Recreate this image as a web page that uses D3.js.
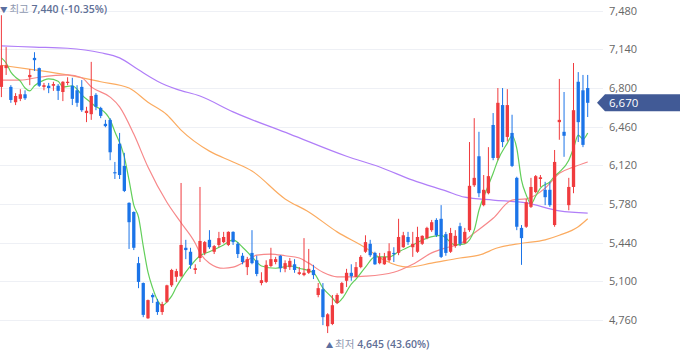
<!DOCTYPE html>
<html><head><meta charset="utf-8">
<script src="https://cdn.jsdelivr.net/npm/d3@7"></script>
<style>
html,body{margin:0;padding:0;background:#fff;}
svg{display:block;font-family:"Open Sans","Noto Sans CJK KR",sans-serif;}
</style></head><body>
<svg id="chart" width="680" height="358"></svg>
<script>
// ---- data ----
const openP  = [6810,6975,6810,6675,6705,6745,6895,7065,6975,6810,6820,6820,6820,6765,6845,6820,6780,6810,6580,6570,6740,6625,6485,6520,6060,6310,6115,5790,5710,5260,5085,4775,4980,4920,4830,4920,5065,5140,5145,5395,5360,5200,5305,5350,5465,5360,5420,5445,5420,5535,5430,5325,5225,5350,5285,5085,5095,5235,5270,5325,5210,5225,5250,5165,5155,5175,5200,4980,5030,4705,4725,4910,4995,5105,5175,5140,5225,5360,5430,5350,5260,5250,5285,5350,5350,5400,5490,5400,5360,5430,5480,5550,5640,5650,5515,5360,5410,5585,5435,5550,5945,6200,5770,5875,6475,6185,6650,6370,6405,6010,5570,5580,5755,5885,6000,5905,5905,5595,6500,6415,5770,5930,6855,6780,6800];
const highP  = [7440,7160,6825,6755,6790,6780,6965,7115,6980,6845,6845,6855,6835,6860,6895,6890,6825,6870,6635,7030,6755,6635,6520,6535,6150,6405,6230,5795,5715,5315,5090,4940,4995,4945,4920,5070,5210,5210,5965,5465,5395,5250,5930,5455,5550,5420,5535,5535,5540,5540,5445,5350,5315,5550,5325,5180,5285,5395,5315,5330,5285,5305,5295,5225,5480,5385,5245,5085,5085,4820,4980,4995,5095,5210,5250,5270,5330,5505,5465,5360,5350,5350,5435,5400,5650,5535,5535,5535,5580,5505,5580,5640,5655,5770,5535,5570,5550,5615,5570,6325,6535,6415,6035,6280,6580,6800,6800,6790,6565,6020,5595,5825,6010,6035,6035,5975,5975,6255,6880,6765,6010,7020,6940,6915,6915];
const lowP   = [6720,6915,6670,6650,6685,6695,6825,6950,6810,6780,6755,6775,6695,6685,6825,6650,6635,6590,6500,6520,6605,6535,6455,6165,6000,6000,5885,5385,5375,5040,4785,4770,4910,4805,4805,4910,5050,5095,5135,5295,5210,5165,5270,5330,5385,5340,5400,5435,5410,5420,5305,5250,5155,5250,5145,5065,5085,5225,5250,5180,5180,5200,5175,5155,5145,5165,5120,4960,4715,4645,4715,4900,4990,5050,5105,5135,5215,5350,5315,5245,5250,5245,5270,5270,5330,5395,5420,5315,5350,5420,5470,5535,5490,5305,5325,5350,5395,5410,5430,5535,5930,5840,5760,5865,6165,6165,6280,6330,6105,5550,5245,5570,5745,5875,5930,5770,5755,5580,6345,6195,5725,5875,6325,6280,6545];
const closeP = [7000,7000,6695,6730,6745,6710,6915,7045,6820,6825,6800,6835,6775,6855,6855,6705,6670,6605,6600,6730,6635,6555,6465,6235,6050,6035,5895,5620,5395,5095,4805,4935,4960,4830,4900,5065,5200,5190,5420,5375,5245,5215,5455,5445,5400,5410,5480,5490,5535,5445,5340,5270,5295,5260,5165,5110,5245,5295,5295,5215,5260,5280,5200,5180,5175,5210,5155,5040,4785,4810,4890,4980,5085,5175,5145,5225,5315,5445,5330,5250,5315,5315,5365,5340,5490,5505,5445,5430,5490,5500,5570,5620,5505,5315,5350,5525,5500,5430,5535,5940,6010,5875,5905,6025,6185,6670,6325,6650,6115,5580,5480,5795,5930,6025,6015,5840,5770,6150,6520,6380,5930,6605,6500,6300,6670];

const yTicks = [4760,5100,5440,5780,6120,6460,6800,7140,7480];

// moving-average lines, [candle index, value]
const ma5   = [[0,7065],[1,7020],[2,6940],[3,6895],[4,6860],[5,6800],[6,6775],[7,6820],[9,6870],[10,6880],[12,6860],[13,6810],[15,6820],[16,6790],[17,6740],[19,6670],[20,6635],[21,6615],[23,6520],[24,6415],[26,6195],[27,5990],[28,5770],[29,5665],[30,5410],[31,5180],[32,5040],[33,4935],[34,4885],[35,4920],[36,4970],[37,5050],[38,5120],[40,5235],[42,5325],[44,5360],[47,5420],[49,5465],[51,5400],[53,5315],[55,5235],[58,5215],[61,5235],[63,5215],[66,5175],[68,5040],[70,4955],[71,4910],[72,4945],[74,5075],[75,5120],[77,5225],[79,5315],[82,5315],[84,5360],[87,5420],[90,5480],[93,5505],[96,5420],[98,5430],[100,5550],[101,5725],[103,5945],[104,6050],[105,6165],[107,6315],[108,6380],[109,6270],[110,5990],[111,5860],[112,5780],[113,5850],[114,5920],[116,5975],[117,6025],[118,6060],[120,6165],[121,6270],[122,6385],[123,6350],[124,6405]];
const ma20  = [[0,6870],[4,6870],[8,6895],[14,6915],[17,6890],[19,6810],[23,6720],[25,6635],[28,6395],[31,6105],[35,5795],[38,5615],[41,5435],[42,5350],[44,5260],[47,5215],[49,5225],[52,5285],[54,5330],[57,5340],[60,5325],[63,5305],[65,5260],[68,5180],[71,5140],[74,5140],[77,5145],[83,5180],[87,5250],[91,5350],[94,5395],[97,5430],[100,5525],[104,5655],[108,5815],[111,5825],[115,5920],[118,6050],[121,6105],[124,6150]];
const ma60  = [[0,7000],[7,6960],[14,6915],[21,6855],[27,6800],[31,6675],[35,6565],[38,6430],[44,6245],[49,6150],[53,6070],[60,5825],[65,5710],[71,5535],[77,5395],[81,5285],[86,5225],[91,5260],[97,5305],[101,5330],[105,5395],[110,5435],[115,5465],[118,5505],[122,5580],[124,5650]];
const ma120 = [[0,7170],[7,7160],[14,7150],[21,7110],[25,7065],[29,6960],[33,6860],[37,6790],[42,6730],[49,6590],[61,6395],[73,6200],[80,6105],[87,5990],[94,5895],[98,5840],[104,5815],[111,5790],[118,5720],[124,5700]];

const upColor = "#f03b3e", downColor = "#1b74e8";
const FONT = '"Open Sans","Noto Sans CJK KR",sans-serif';

// ---- build ----
const svg = d3.select("#chart");
const idx = d3.range(openP.length);
const x = d3.scalePoint().domain(idx).range([1.4, 587.7]);
const y = d3.scaleLinear().domain([4760, 7480]).range([320, 10.7]);
const bodyW = x.step() * 0.7;

// grid
svg.append("g").selectAll("line").data(yTicks).join("line")
  .attr("x1", 0).attr("x2", 603)
  .attr("y1", d => Math.round(y(d)) + 0.5).attr("y2", d => Math.round(y(d)) + 0.5)
  .attr("stroke", "#eef0f5").attr("stroke-width", 1);

// y axis labels
const axis = d3.axisRight(y).tickValues(yTicks).tickFormat(d3.format(",")).tickSize(0).tickPadding(0);
const ag = svg.append("g").attr("transform", "translate(609,0)").call(axis);
ag.select(".domain").remove();
ag.selectAll("text").attr("fill", "#666").attr("font-size", "11px").attr("font-family", FONT);

// MA lines
const line = d3.line().x(d => x(d[0])).y(d => y(d[1])).curve(d3.curveMonotoneX);
[[ma120, "#b07ef8"], [ma60, "#fbab60"], [ma20, "#f7888a"], [ma5, "#62cf5a"]].forEach(([data, c]) => {
  svg.append("path").attr("d", line(data)).attr("fill", "none")
    .attr("stroke", c).attr("stroke-width", 1.2);
});

// candles
const candles = svg.append("g").selectAll("g").data(idx).join("g");
candles.append("line")
  .attr("x1", i => x(i)).attr("x2", i => x(i))
  .attr("y1", i => y(highP[i])).attr("y2", i => y(lowP[i]))
  .attr("stroke", i => closeP[i] >= openP[i] ? upColor : downColor)
  .attr("stroke-width", 1);
candles.append("rect")
  .attr("x", i => x(i) - bodyW / 2).attr("width", bodyW)
  .attr("y", i => y(Math.max(openP[i], closeP[i])))
  .attr("height", i => Math.max(1.2, Math.abs(y(openP[i]) - y(closeP[i]))))
  .attr("fill", i => closeP[i] >= openP[i] ? upColor : downColor);

// high / low annotations
const last = closeP[closeP.length - 1];
const hiIdx = d3.maxIndex(highP), loIdx = d3.minIndex(lowP);
const hi = highP[hiIdx], lo = lowP[loIdx];
const fmt = d3.format(",");
const pct = v => (v < 0 ? "-" : "") + Math.abs(v).toFixed(2);

function annot(xPos, yPos, arrow, word, value, change) {
  const t = svg.append("text").attr("x", xPos).attr("y", yPos)
    .attr("font-size", "10.5px").attr("font-family", FONT);
  t.append("tspan").attr("fill", "#5b6fa0").attr("font-size", "7.5px").text(arrow + " ");
  t.append("tspan").attr("fill", "#8e98b0").text(word + " ");
  t.append("tspan").attr("fill", "#5f6f96").attr("font-weight", 600)
    .text(`${fmt(value)} (${pct(change)}%)`);
}
annot(Math.max(0, x(hiIdx) - 2), 13, "▼", "최고", hi, (last - hi) / hi * 100);
annot(x(loIdx) - 2, 348, "▲", "최저", lo, (last - lo) / lo * 100);

// current price tag
const yc = y(last);
svg.append("path")
  .attr("d", `M597,${yc} L605,${yc - 8.5} L680,${yc - 8.5} L680,${yc + 8.5} L605,${yc + 8.5} Z`)
  .attr("fill", "#415a96");
svg.append("text").attr("x", 609).attr("y", yc).attr("dy", "0.36em")
  .attr("fill", "#fff").attr("font-size", "11.5px").attr("font-family", FONT)
  .text(fmt(last));
</script>
</body></html>
